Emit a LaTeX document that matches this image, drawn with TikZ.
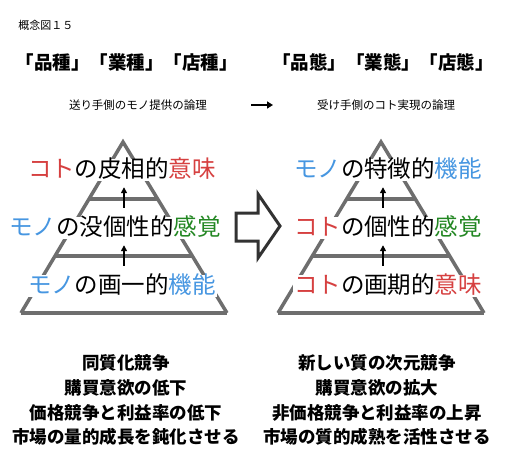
\documentclass[tikz,border=0pt]{standalone}
\usepackage{fontspec}
\newfontfamily\jp{Noto Sans CJK JP}
\usetikzlibrary{arrows.meta,calc}
\definecolor{kred}{RGB}{214,64,64}
\definecolor{kblue}{RGB}{70,150,225}
\definecolor{kgreen}{RGB}{35,135,35}
\definecolor{pgray}{RGB}{110,110,110}
\definecolor{bigarrow}{RGB}{50,50,50}
\tikzset{
  x=1pt, y=-1pt,
  every node/.style={font=\jp, inner sep=0pt},
  pyr/.style={draw=pgray, line width=3.5pt},
  level/.style={font=\jp\fontsize{23.5}{26}\selectfont, fill=white, inner sep=1pt, text height=17pt, text depth=3pt},
  up/.style={draw=black, line width=1.5pt, -{Triangle[length=6pt,width=6pt]}, shorten >=6pt, shorten <=9pt},
  title/.style={font=\jp\bfseries\fontsize{18.5}{21}\selectfont},
  sub/.style={font=\jp\fontsize{11.5}{14}\selectfont},
  bottom/.style={font=\jp\bfseries\fontsize{17.5}{20}\selectfont},
}
\begin{document}
\begin{tikzpicture}
\useasboundingbox[fill=white] (0,0) rectangle (507,469);

\node[font=\jp\fontsize{11}{13}\selectfont] (fig) at (46,25) {概念図１５};

\node[title] (tl) at (127,62) {「品種」「業種」「店種」};
\node[title] (tr) at (383,62) {「品態」「業態」「店態」};

\node[sub] (sl) at (138,105) {送り手側のモノ提供の論理};
\node[sub] (sr) at (386,105) {受け手側のコト実現の論理};
\coordinate (a1) at (251,105);
\coordinate (a2) at (273,105);
\draw[line width=2pt, -{Triangle[length=6pt,width=7pt]}] (a1) -- (a2);

% left pyramid
\coordinate (LA) at (123,142);
\coordinate (LL) at (21,313);
\coordinate (LR) at (227,313);
\draw[pyr, line join=miter] (LL) -- (LA) -- (LR);
\draw[pyr] (LL) -- (LR);
\draw[pyr] ($(LA)!0.333!(LL)$) -- ($(LA)!0.333!(LR)$);
\draw[pyr] ($(LA)!0.667!(LL)$) -- ($(LA)!0.667!(LR)$);

% right pyramid
\coordinate (RA) at (381,142);
\coordinate (RL) at (278,313);
\coordinate (RR) at (484,313);
\draw[pyr, line join=miter] (RL) -- (RA) -- (RR);
\draw[pyr] (RL) -- (RR);
\draw[pyr] ($(RA)!0.333!(RL)$) -- ($(RA)!0.333!(RR)$);
\draw[pyr] ($(RA)!0.667!(RL)$) -- ($(RA)!0.667!(RR)$);

% left texts
\node[level] (l1) at (122,170) {\textcolor{kred}{コト}の皮相的\textcolor{kred}{意味}};
\node[level] (l2) at (115,228) {\textcolor{kblue}{モノ}の没個性的\textcolor{kgreen}{感覚}};
\node[level] (l3) at (122,286) {\textcolor{kblue}{モノ}の画一的\textcolor{kblue}{機能}};
\draw[up] (l2.north -| 124,0) -- (l1.south -| 124,0);
\draw[up] (l3.north -| 124,0) -- (l2.south -| 124,0);

% right texts
\node[level] (r1) at (388,170) {\textcolor{kblue}{モノ}の特徴的\textcolor{kblue}{機能}};
\node[level] (r2) at (388,228) {\textcolor{kred}{コト}の個性的\textcolor{kgreen}{感覚}};
\node[level] (r3) at (388,286) {\textcolor{kred}{コト}の画期的\textcolor{kred}{意味}};
\draw[up] (r2.north -| 383,0) -- (r1.south -| 383,0);
\draw[up] (r3.north -| 383,0) -- (r2.south -| 383,0);

% big hollow arrow
\draw[draw=bigarrow, line width=3pt, line join=miter, fill=white]
  (236,213) -- (258,213) -- (258,194) -- (280,226) -- (258,258) -- (258,241) -- (236,241) -- cycle;

% bottom texts
\node[bottom] (b1) at (126,363) {同質化競争};
\node[bottom] (b2) at (126,388) {購買意欲の低下};
\node[bottom] (b3) at (126,413) {価格競争と利益率の低下};
\node[bottom] (b4) at (126,437) {市場の量的成長を鈍化させる};
\node[bottom] (c1) at (377,363) {新しい質の次元競争};
\node[bottom] (c2) at (377,388) {購買意欲の拡大};
\node[bottom] (c3) at (377,413) {非価格競争と利益率の上昇};
\node[bottom] (c4) at (377,437) {市場の質的成熟を活性させる};
\end{tikzpicture}
\end{document}
